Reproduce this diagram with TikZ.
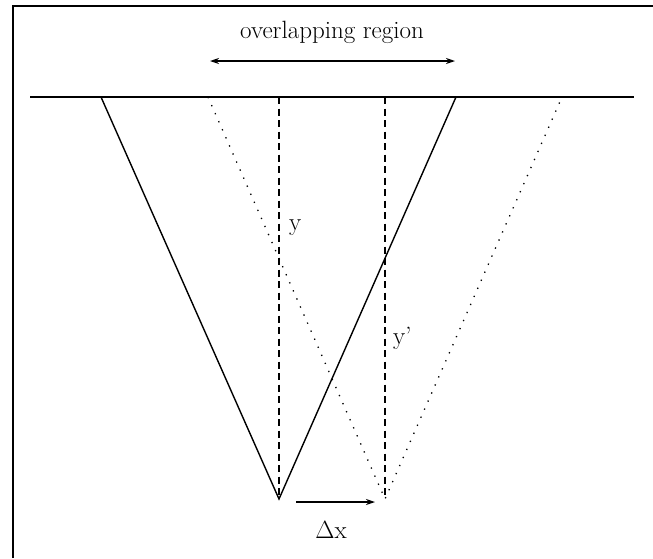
\documentclass[tikz,border=0pt]{standalone}
\usetikzlibrary{arrows.meta}
\begin{document}
\begin{tikzpicture}[x=1pt,y=-1pt,
  lbl/.style={font=\fontsize{25}{29}\selectfont, inner sep=0pt},
  solidln/.style={line width=1.4pt},
  dashln/.style={line width=1.4pt, dash pattern=on 7pt off 4.5pt},
  dotln/.style={line width=1.3pt, dash pattern=on 1.3pt off 7.5pt},
  arr/.style={line width=1.4pt, -{Stealth[length=9pt,width=6pt]}},
  darr/.style={line width=1.4pt, {Stealth[length=9pt,width=6pt]}-{Stealth[length=9pt,width=6pt]}}]
\useasboundingbox (0,0) rectangle (653,558);
% frame (top and left edges)
\draw[line width=2pt] (13,558) -- (13,6) -- (653,6);
% coordinates
\coordinate (hl) at (30,97);
\coordinate (hr) at (634,97);
\coordinate (sl) at (101,97);
\coordinate (sr) at (456,97);
\coordinate (sv) at (279,499);
\coordinate (dl) at (208,97);
\coordinate (dr) at (562,97);
\coordinate (dv) at (385,499);
\coordinate (st) at (279,97);
\coordinate (dt) at (385,97);
\coordinate (oa) at (210,61);
\coordinate (ob) at (455,61);
\coordinate (xa) at (296,502);
\coordinate (xb) at (375,502);
% baseline
\draw[line width=2pt] (hl) -- (hr);
% solid V
\draw[solidln] (sl) -- (sv) -- (sr);
% dotted V
\draw[dotln] (dl) -- (dv) -- (dr);
% dashed verticals
\draw[dashln] (st) -- (sv);
\draw[dashln] (dt) -- (dv);
% overlapping region arrow
\draw[darr] (oa) -- (ob);
\node[lbl] (ot) at (332,32) {overlapping region};
% shift arrow
\draw[arr] (xa) -- (xb);
\node[lbl] (dx) at (331,530) {$\Delta$x};
% labels
\node[lbl, anchor=west] (y1) at (289,228) {y};
\node[lbl, anchor=west] (y2) at (393,338) {y'};
\end{tikzpicture}
\end{document}
